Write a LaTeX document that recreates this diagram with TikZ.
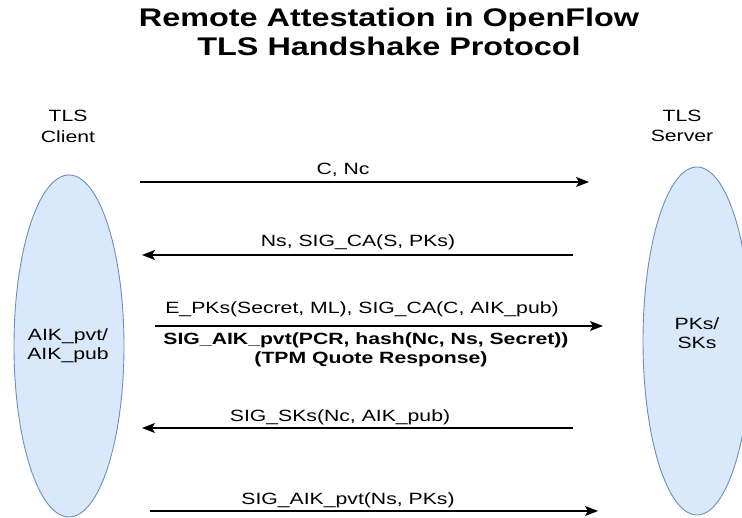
\documentclass[tikz,border=0pt]{standalone}
\usepackage{fontspec}
\setmainfont{Liberation Sans}[FakeStretch=1.3]
\newfontfamily\titlefont{Liberation Sans}[FakeStretch=1.27]
\usetikzlibrary{shapes.geometric,arrows.meta}
\definecolor{ellfill}{HTML}{DAE8FC}
\definecolor{elldraw}{HTML}{6C8EBF}
\begin{document}
\begin{tikzpicture}[x=1pt,y=-1pt,
  txt/.style={font=\fontsize{16.3}{19}\selectfont, inner sep=0pt, anchor=base},
  btxt/.style={txt, font=\fontsize{16.3}{19}\selectfont\bfseries},
  ttl/.style={font=\titlefont\fontsize{25.5}{28}\selectfont\bfseries, inner sep=0pt, anchor=base},
  party/.style={ellipse, draw=elldraw, fill=ellfill, line width=0.9pt, inner sep=0pt},
  msg/.style={line width=1.2pt, -{Stealth[length=13pt,width=10pt,inset=3pt]}}]
\useasboundingbox (0,0) rectangle (742,518);
% title
\node[ttl] (title1) at (389,27) {Remote Attestation in OpenFlow};
\node[ttl] (title2) at (389,56) {TLS Handshake Protocol};
% parties
\node[txt] (clienthead1) at (68,122) {TLS};
\node[txt] (clienthead2) at (68,142.5) {Client};
\node[txt] (serverhead1) at (682,122) {TLS};
\node[txt] (serverhead2) at (682,141.5) {Server};
\node[party, minimum width=110pt, minimum height=342pt] (client) at (69,346) {};
\node[party, minimum width=108pt, minimum height=348pt] (server) at (697,341) {};
\node[txt] (clientkey1) at (68,341) {AIK\_pvt/};
\node[txt] (clientkey2) at (68,360) {AIK\_pub};
\node[txt] (serverkey1) at (697,330) {PKs/};
\node[txt] (serverkey2) at (697,348.5) {SKs};
% message end points
\coordinate (m1s) at (140,182);   \coordinate (m1e) at (589,182);
\coordinate (m2s) at (573,255);   \coordinate (m2e) at (142,255);
\coordinate (m3s) at (155,326);   \coordinate (m3e) at (603,326);
\coordinate (m4s) at (573,428);   \coordinate (m4e) at (142,428);
\coordinate (m5s) at (150,511);   \coordinate (m5e) at (598,511);
% messages
\draw[msg] (m1s) -- (m1e);
\draw[msg] (m2s) -- (m2e);
\draw[msg] (m3s) -- (m3e);
\draw[msg] (m4s) -- (m4e);
\draw[msg] (m5s) -- (m5e);
% labels
\node[txt] (l1) at (343,175) {C, Nc};
\node[txt] (l2) at (358,247) {Ns, SIG\_CA(S, PKs)};
\node[txt] (l3a) at (362,314) {E\_PKs(Secret, ML), SIG\_CA(C, AIK\_pub)};
\node[btxt] (l3b) at (366,345) {SIG\_AIK\_pvt(PCR, hash(Nc, Ns, Secret))};
\node[btxt] (l3c) at (371,363.5) {(TPM Quote Response)};
\node[txt] (l4) at (340,421.5) {SIG\_SKs(Nc, AIK\_pub)};
\node[txt] (l5) at (348,504) {SIG\_AIK\_pvt(Ns, PKs)};
\end{tikzpicture}
\end{document}
